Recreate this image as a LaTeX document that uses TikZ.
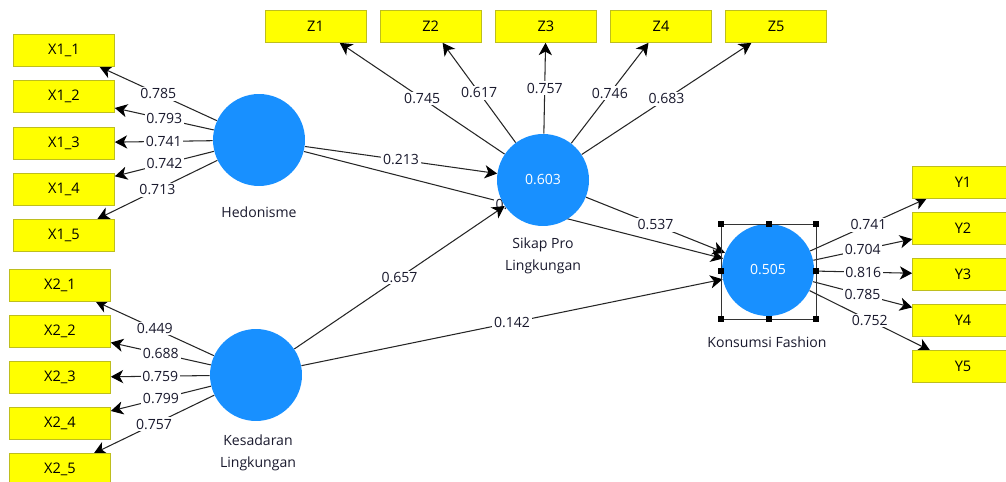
\documentclass[tikz,border=0pt]{standalone}
\usepackage{fontspec}
\setmainfont{Open Sans}
\usepackage{tikz}
\usetikzlibrary{shapes.geometric, arrows.meta, positioning, backgrounds}
\definecolor{lvblue}{RGB}{24,144,255}
\definecolor{mvyellow}{RGB}{255,255,0}
\definecolor{mvborder}{RGB}{190,190,30}
\definecolor{coeftext}{RGB}{25,25,45}
\tikzstyle{latent} = [circle, minimum size=1.84cm, inner sep=0pt, fill=lvblue, text=white, font=\fontsize{8}{9}\selectfont]
\tikzstyle{indicator} = [rectangle, minimum width=2.02cm, minimum height=0.64cm, inner sep=0pt, text centered, draw=mvborder, fill=mvyellow, font=\fontsize{8.3}{9}\selectfont]
\tikzstyle{coef} = [fill=white, inner sep=1pt, text=coeftext, font=\fontsize{8}{9}\selectfont]
\tikzstyle{caption} = [align=center, inner sep=0pt, text=coeftext, font=\fontsize{8}{12.5}\selectfont]
\tikzstyle{arrow} = [line width=0.6pt, draw=black!85, -{Stealth[length=7pt,width=7.5pt,inset=2pt,color=black,fill=black]}]
\tikzstyle{handle} = [rectangle, fill=black, minimum size=0.12cm, inner sep=0pt]

\begin{document}
\begin{tikzpicture}[x=0.02cm, y=-0.02cm, node distance=0.27cm]
	\useasboundingbox (0,0) rectangle (1006,482);
	\clip (0,0) rectangle (1006,482);

	% latent variables
	\node (hedonisme) [latent] at (259,140) {};
	\node (kesadaran) [latent] at (256,375) {};
	\node (sikap) [latent] at (543,180) {0.603};
	\node (konsumsi) [latent] at (768,270) {0.505};

	\node (hedlabel) [caption] at (259,212) {Hedonisme};
	\node (keslabel) [caption] at (258,453) {Kesadaran\\Lingkungan};
	\node (siklabel) [caption] at (543,256) {Sikap Pro\\Lingkungan};
	\node (konlabel) [caption] at (767,342) {Konsumsi Fashion};

	% indicators
	\node (x11) [indicator] at (64,50.5) {X1\_1};
	\node (x12) [indicator, below=of x11] {X1\_2};
	\node (x13) [indicator, below=of x12] {X1\_3};
	\node (x14) [indicator, below=of x13] {X1\_4};
	\node (x15) [indicator, below=of x14] {X1\_5};

	\node (x21) [indicator] at (60,285) {X2\_1};
	\node (x22) [indicator, below=of x21] {X2\_2};
	\node (x23) [indicator, below=of x22] {X2\_3};
	\node (x24) [indicator, below=of x23] {X2\_4};
	\node (x25) [indicator, below=of x24] {X2\_5};

	\node (z1) [indicator] at (315.5,26.5) {Z1};
	\node (z2) [indicator, right=of z1] {Z2};
	\node (z3) [indicator, right=of z2] {Z3};
	\node (z4) [indicator, right=of z3] {Z4};
	\node (z5) [indicator, right=of z4] {Z5};

	\node (y1) [indicator] at (963,182) {Y1};
	\node (y2) [indicator, below=of y1] {Y2};
	\node (y3) [indicator, below=of y2] {Y3};
	\node (y4) [indicator, below=of y3] {Y4};
	\node (y5) [indicator, below=of y4] {Y5};

	% selection frame
	\draw [black!80, line width=0.5pt] ([shift={(-47,-46)}]konsumsi.center) rectangle ([shift={(48,49)}]konsumsi.center);
	\node (h1) [handle] at ([shift={(-47,-46)}]konsumsi.center) {};
	\node (h2) [handle] at ([shift={(0.5,-46)}]konsumsi.center) {};
	\node (h3) [handle] at ([shift={(48,-46)}]konsumsi.center) {};
	\node (h4) [handle] at ([shift={(-47,1.5)}]konsumsi.center) {};
	\node (h5) [handle] at ([shift={(48,1.5)}]konsumsi.center) {};
	\node (h6) [handle] at ([shift={(-47,49)}]konsumsi.center) {};
	\node (h7) [handle] at ([shift={(0.5,49)}]konsumsi.center) {};
	\node (h8) [handle] at ([shift={(48,49)}]konsumsi.center) {};

	\begin{pgfonlayer}{background}
	\draw [arrow] (hedonisme) -- node [coef] {0.785} (x11);
	\draw [arrow] (hedonisme) -- node [coef] {0.793} (x12);
	\draw [arrow] (hedonisme) -- node [coef] {0.741} (x13);
	\draw [arrow] (hedonisme) -- node [coef] {0.742} (x14);
	\draw [arrow] (hedonisme) -- node [coef] {0.713} (x15);

	\draw [arrow] (kesadaran) -- node [coef] {0.449} (x21);
	\draw [arrow] (kesadaran) -- node [coef] {0.688} (x22);
	\draw [arrow] (kesadaran) -- node [coef] {0.759} (x23);
	\draw [arrow] (kesadaran) -- node [coef] {0.799} (x24);
	\draw [arrow] (kesadaran) -- node [coef] {0.757} (x25);

	\draw [arrow] (sikap) -- node [coef] {0.745} (z1);
	\draw [arrow] (sikap) -- node [coef] {0.617} (z2);
	\draw [arrow] (sikap) -- node [coef] {0.757} (z3);
	\draw [arrow] (sikap) -- node [coef] {0.746} (z4);
	\draw [arrow] (sikap) -- node [coef] {0.683} (z5);

	\draw [arrow] (konsumsi) -- node [coef] {0.741} (y1);
	\draw [arrow] (konsumsi) -- node [coef] {0.704} (y2);
	\draw [arrow] (konsumsi) -- node [coef] {0.816} (y3);
	\draw [arrow] (konsumsi) -- node [coef] {0.785} (y4);
	\draw [arrow] (konsumsi) -- node [coef] {0.752} (y5);

	% structural paths
	\draw [arrow] (hedonisme) -- node [coef] {0.\phantom{000}} (konsumsi);
	\draw [arrow] (hedonisme) -- node [coef] {0.213} (sikap);
	\draw [arrow] (kesadaran) -- node [coef] {0.657} (sikap);
	\draw [arrow] (kesadaran) -- node [coef] {0.142} (konsumsi);
	\draw [arrow] (sikap) -- node [coef] {0.537} (konsumsi);
	\end{pgfonlayer}
\end{tikzpicture}
\end{document}
